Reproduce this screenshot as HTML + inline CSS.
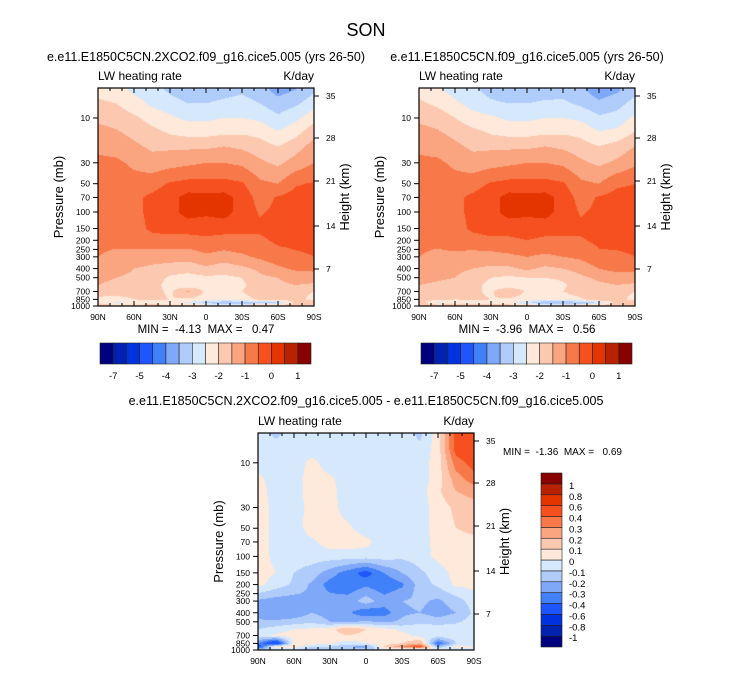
<!DOCTYPE html>
<html><head><meta charset="utf-8"><style>
body{margin:0;background:#fff;width:733px;height:673px;overflow:hidden;position:relative;font-family:"Liberation Sans",sans-serif}
canvas{position:absolute}
svg{position:absolute;left:0;top:0}
svg text{white-space:pre}
</style></head><body>
<canvas id="c1" width="216" height="218" style="left:98px;top:88px"></canvas>
<canvas id="c2" width="216" height="218" style="left:419px;top:88px"></canvas>
<canvas id="c3" width="216" height="217" style="left:258px;top:433px"></canvas>
<svg id="s" width="733" height="673"></svg>
<script>
const lats=[90,75,60,45,30,15,0,-15,-30,-45,-60,-75,-90];
const levels=[5,7,10,15,20,30,50,70,100,150,200,300,400,500,600,700,850,925,1000];
const palette=["#00007f","#0022b0","#0033e0","#1e55ff","#4080f8","#80a8f8","#b0ccfa","#d6e8fc","#fee9da","#fcc8b0","#faa480","#f77848","#f65020","#e43500","#b82200","#880000"];
const absLevels=[-7,-6,-5,-4.5,-4,-3.5,-3,-2.5,-2,-1.5,-1,-0.5,0,0.5,1];
const absLabels=["-7","-5","-4","-3","-2","-1","0","1"];
const diffLevels=[-1,-0.8,-0.6,-0.4,-0.3,-0.2,-0.1,0,0.1,0.2,0.3,0.4,0.6,0.8,1];
const diffLabels=["-1","-0.8","-0.6","-0.4","-0.3","-0.2","-0.1","0","0.1","0.2","0.3","0.4","0.6","0.8","1"];
const pTicks=[10,30,50,70,100,150,200,250,300,400,500,700,850,1000];
const hTicks=[35,28,21,14,7];
const latTickLabels=["90N","60N","30N","0","30S","60S","90S"];
const field2xco2=[
[-2.2,-2.3,-2.6,-2.8,-3.1,-3.3,-3.3,-3.2,-3.1,-3.3,-3.7,-3.5,-3.1],
[-1.9,-2.0,-2.3,-2.6,-2.8,-3.0,-3.0,-2.9,-2.8,-3.0,-3.3,-3.1,-2.7],
[-1.6,-1.7,-1.9,-2.2,-2.4,-2.6,-2.6,-2.5,-2.5,-2.6,-2.9,-2.6,-2.2],
[-1.3,-1.4,-1.6,-1.8,-2.0,-2.1,-2.1,-2.0,-2.0,-2.1,-2.4,-2.1,-1.6],
[-1.1,-1.2,-1.4,-1.6,-1.6,-1.6,-1.6,-1.5,-1.6,-1.8,-2.0,-1.7,-1.3],
[-0.9,-0.9,-1.1,-1.3,-1.2,-1.1,-1.0,-1.0,-1.1,-1.4,-1.6,-1.3,-1.0],
[-0.8,-0.8,-0.8,-0.7,-0.45,-0.35,-0.35,-0.35,-0.45,-0.9,-1.0,-0.55,-0.45],
[-0.7,-0.7,-0.6,-0.4,-0.2,0.2,0.15,0.2,-0.2,-0.7,-0.45,-0.3,-0.3],
[-0.7,-0.7,-0.6,-0.4,-0.2,0.2,0.1,0.2,-0.2,-0.55,-0.4,-0.3,-0.3],
[-0.8,-0.8,-0.7,-0.4,-0.3,-0.3,-0.3,-0.3,-0.4,-0.4,-0.3,-0.3,-0.3],
[-0.9,-0.9,-0.8,-0.7,-0.7,-0.7,-0.6,-0.7,-0.6,-0.6,-0.4,-0.35,-0.35],
[-1.0,-1.1,-1.2,-1.3,-1.3,-1.3,-1.1,-1.2,-1.1,-0.9,-0.7,-0.6,-0.5],
[-1.2,-1.3,-1.5,-1.6,-1.7,-1.8,-1.6,-1.8,-1.6,-1.4,-1.1,-0.9,-0.9],
[-1.4,-1.5,-1.6,-1.7,-2.1,-2.2,-2.1,-2.1,-2.0,-1.6,-1.5,-1.3,-1.2],
[-1.5,-1.6,-1.7,-1.8,-2.2,-2.4,-2.2,-2.3,-2.1,-1.7,-1.6,-1.5,-1.6],
[-1.6,-1.6,-1.7,-1.8,-2.1,-1.4,-2.1,-2.2,-2.0,-1.7,-1.7,-1.8,-2.0],
[-2.2,-2.3,-2.0,-1.9,-2.0,-2.1,-2.2,-2.3,-2.2,-1.9,-1.8,-1.8,-2.2],
[-2.0,-2.6,-2.4,-2.4,-2.4,-2.6,-3.2,-3.5,-3.4,-3.3,-3.1,-1.8,-1.5],
[-1.8,-1.6,-1.7,-1.6,-1.7,-1.8,-1.9,-1.9,-1.8,-1.7,-1.5,-1.6,-1.8]];
const fieldCtl=[
[-2.2,-2.4,-2.7,-2.9,-3.2,-3.4,-3.4,-3.3,-3.2,-3.4,-3.8,-3.6,-3.2],
[-1.9,-2.1,-2.4,-2.7,-2.9,-3.0,-3.0,-2.9,-2.9,-3.1,-3.4,-3.2,-2.8],
[-1.6,-1.7,-2.0,-2.3,-2.4,-2.6,-2.6,-2.5,-2.5,-2.6,-2.9,-2.8,-2.4],
[-1.3,-1.4,-1.6,-1.8,-2.0,-2.1,-2.1,-2.0,-2.0,-2.1,-2.4,-2.3,-1.9],
[-1.1,-1.2,-1.4,-1.6,-1.6,-1.6,-1.6,-1.5,-1.6,-1.8,-2.0,-1.8,-1.5],
[-0.9,-0.9,-1.1,-1.3,-1.2,-1.1,-1.0,-1.0,-1.1,-1.4,-1.6,-1.4,-1.1],
[-0.8,-0.8,-0.8,-0.7,-0.45,-0.35,-0.35,-0.35,-0.45,-0.9,-1.0,-0.6,-0.5],
[-0.7,-0.7,-0.6,-0.4,-0.2,0.2,0.15,0.2,-0.2,-0.7,-0.45,-0.3,-0.3],
[-0.7,-0.7,-0.6,-0.4,-0.2,0.2,0.1,0.2,-0.2,-0.55,-0.4,-0.3,-0.3],
[-0.8,-0.8,-0.7,-0.4,-0.3,-0.3,-0.25,-0.3,-0.4,-0.4,-0.3,-0.3,-0.3],
[-0.9,-0.9,-0.8,-0.7,-0.6,-0.6,-0.5,-0.6,-0.55,-0.55,-0.4,-0.35,-0.35],
[-1.0,-1.1,-1.1,-1.2,-1.2,-1.1,-1.0,-1.1,-1.0,-0.9,-0.6,-0.6,-0.5],
[-1.1,-1.2,-1.4,-1.5,-1.6,-1.6,-1.4,-1.6,-1.5,-1.3,-1.0,-0.8,-0.9],
[-1.3,-1.4,-1.5,-1.7,-2.0,-2.1,-2.0,-2.0,-1.9,-1.6,-1.4,-1.3,-1.2],
[-1.5,-1.6,-1.7,-1.8,-2.2,-2.4,-2.2,-2.3,-2.1,-1.7,-1.6,-1.5,-1.6],
[-1.6,-1.6,-1.7,-1.9,-2.1,-1.5,-2.1,-2.2,-2.0,-1.7,-1.7,-1.8,-2.0],
[-2.0,-1.8,-2.0,-1.9,-2.0,-2.1,-2.2,-2.3,-2.3,-2.1,-1.5,-1.8,-2.2],
[-1.6,-2.6,-2.4,-2.3,-2.3,-2.4,-2.9,-3.6,-3.5,-3.5,-3.0,-1.8,-1.5],
[-1.7,-1.5,-1.6,-1.5,-1.5,-1.6,-1.8,-1.8,-1.7,-1.6,-1.5,-1.6,-1.8]];
const fieldDiff=[
[-0.05,-0.12,-0.05,-0.05,-0.05,-0.05,-0.05,-0.05,-0.05,-0.12,0.05,0.45,0.5],
[-0.05,-0.05,-0.05,-0.05,-0.05,-0.05,-0.05,-0.05,-0.05,-0.08,0.05,0.45,0.5],
[-0.05,-0.05,-0.05,0.03,-0.05,-0.05,-0.05,-0.05,-0.05,-0.05,0.05,0.35,0.45],
[0.03,-0.05,-0.05,0.05,0.02,-0.05,-0.05,-0.05,-0.05,-0.05,0.05,0.25,0.35],
[0.05,-0.05,-0.05,0.05,0.03,-0.05,-0.05,-0.05,-0.05,-0.05,0.08,0.2,0.25],
[0.05,-0.03,-0.05,0.04,0.04,-0.05,-0.05,-0.05,-0.05,-0.05,0.05,0.12,0.15],
[0.05,-0.03,-0.05,0.05,0.05,0.02,-0.05,-0.05,-0.05,-0.05,0.05,0.1,0.12],
[0.05,-0.03,-0.05,-0.02,0.05,0.05,0.03,-0.05,-0.05,-0.05,0.04,0.07,0.08],
[0.05,-0.03,-0.05,-0.05,-0.05,-0.05,-0.05,-0.05,-0.08,-0.05,0.03,0.05,0.06],
[0.05,0.0,-0.1,-0.15,-0.25,-0.35,-0.45,-0.3,-0.2,-0.12,-0.05,0.04,0.05],
[0.03,-0.05,-0.12,-0.22,-0.35,-0.38,-0.32,-0.38,-0.32,-0.15,-0.08,0.02,0.03],
[-0.22,-0.25,-0.25,-0.22,-0.25,-0.25,-0.15,-0.25,-0.2,-0.18,-0.22,-0.15,-0.05],
[-0.25,-0.28,-0.28,-0.2,-0.25,-0.28,-0.38,-0.35,-0.22,-0.2,-0.25,-0.2,-0.08],
[-0.18,-0.18,-0.15,-0.12,-0.2,-0.22,-0.18,-0.22,-0.18,-0.12,-0.15,-0.12,-0.05],
[-0.1,-0.05,0.0,0.02,0.05,0.2,0.1,0.03,-0.02,-0.03,-0.03,-0.03,-0.03],
[-0.05,0.02,0.05,0.1,0.05,0.1,0.05,0.08,0.03,-0.03,-0.03,-0.03,-0.03],
[-0.3,-0.6,0.05,0.05,0.02,-0.05,0.0,0.05,0.1,0.2,-0.4,-0.1,-0.05],
[-0.5,0.1,0.05,-0.1,-0.1,-0.2,-0.25,0.1,0.3,0.5,-0.2,0.05,0.0],
[-0.15,-0.1,-0.1,-0.2,-0.2,-0.15,-0.1,-0.1,-0.15,-0.3,0.1,-0.05,0.0]];

const PTOP=4.8,PBOT=1000;
function yOfP(p,y0,h){return y0+h*(Math.log10(p/PTOP))/Math.log10(PBOT/PTOP);}
function xOfLat(l,x0,w){return x0+w*(90-l)/180;}
function binColor(v,lv){let i=0;while(i<lv.length&&v>=lv[i])i++;return palette[i];}
function sample(f,lat,p){
  let fi=(90-lat)/15;let i0=Math.min(Math.floor(fi),11);let ti=fi-i0;
  const lp=Math.log(p);let j0=0;
  while(j0<levels.length-2&&lp>Math.log(levels[j0+1]))j0++;
  let tj=(lp-Math.log(levels[j0]))/(Math.log(levels[j0+1])-Math.log(levels[j0]));
  tj=Math.max(0,Math.min(1,tj));
  const a=f[j0][i0],b=f[j0][i0+1],c=f[j0+1][i0],d=f[j0+1][i0+1];
  return (a*(1-ti)+b*ti)*(1-tj)+(c*(1-ti)+d*ti)*tj;
}
function drawField(id,f,lv){
  const cv=document.getElementById(id),ctx=cv.getContext('2d'),W=cv.width,H=cv.height;
  for(let y=0;y<H;y++){
    const p=PTOP*Math.pow(PBOT/PTOP,(y+0.5)/H);
    for(let x=0;x<W;x++){
      const lat=90-180*(x+0.5)/W;
      ctx.fillStyle=binColor(sample(f,lat,p),lv);ctx.fillRect(x,y,1,1);
    }
  }
}
drawField('c1',field2xco2,absLevels);
drawField('c2',fieldCtl,absLevels);
drawField('c3',fieldDiff,diffLevels);

const S=document.getElementById('s');const NS='http://www.w3.org/2000/svg';
function el(t,a,txt){const e=document.createElementNS(NS,t);for(const k in a)e.setAttribute(k,a[k]);if(txt!==undefined)e.textContent=txt;S.appendChild(e);return e;}
function txt(x,y,s,size,anchor,name,extra){const e=el('text',Object.assign({x:x,y:y,'font-size':size,'text-anchor':anchor||'start',fill:'#000','font-family':'Liberation Sans, sans-serif'},extra||{}),s);

return e;}

txt(366,36,'SON',18,'middle','figure-title');
function panel(x0,y0,w,h,title,pref,titleY){
  const r=el('rect',{x:x0,y:y0,width:w,height:h,fill:'none',stroke:'#000','stroke-width':1.2});
  
  
  txt(x0+w/2,titleY,title,12.5,'middle',pref+'-title');
  txt(x0,y0-8,'LW heating rate',12,'start',pref+'-variable-label');
  txt(x0+w,y0-8,'K/day',12,'end',pref+'-units-label');
  pTicks.forEach(p=>{const y=yOfP(p,y0,h);
    const l=el('line',{x1:x0-5,x2:x0,y1:y,y2:y,stroke:'#000'});
    
    
    txt(x0-8,y+3,String(p),8.5,'end',pref+'-pressure-tick-label');});
  const hOff=[8,50,93,138,181];
  hTicks.forEach((hv,i)=>{const y=y0+hOff[i];
    const l=el('line',{x1:x0+w,x2:x0+w+5,y1:y,y2:y,stroke:'#000'});
    
    
    txt(x0+w+12,y+3,String(hv),8.5,'start',pref+'-height-tick-label');});
  for(let lat=90;lat>=-90;lat-=10){const x=xOfLat(lat,x0,w);const major=lat%30===0;
    const L=major?5:3;
    const a=el('line',{x1:x,x2:x,y1:y0+h,y2:y0+h-L,stroke:'#000'});
    
    
    const b=el('line',{x1:x,x2:x,y1:y0,y2:y0+L,stroke:'#000'});
    
    }
  latTickLabels.forEach((s,i)=>{txt(xOfLat(90-30*i,x0,w),y0+h+14,s,8.5,'middle',pref+'-lat-tick-label');});
  const cy=y0+h/2;
  txt(x0-35,cy,'Pressure (mb)',13,'middle',pref+'-y-axis-title',{transform:`rotate(-90 ${x0-35} ${cy})`});
  txt(x0+w+35,cy,'Height (km)',13,'middle',pref+'-right-axis-title',{transform:`rotate(-90 ${x0+w+35} ${cy})`});
}
panel(98,88,216,218,'e.e11.E1850C5CN.2XCO2.f09_g16.cice5.005 (yrs 26-50)','left',61);
panel(419,88,216,218,'e.e11.E1850C5CN.f09_g16.cice5.005 (yrs 26-50)','right',61);
panel(258,433,216,217,'e.e11.E1850C5CN.2XCO2.f09_g16.cice5.005 - e.e11.E1850C5CN.f09_g16.cice5.005','diff',405);
txt(206,333,'MIN =  -4.13  MAX =   0.47',11.5,'middle','left-min-max');
txt(527,333,'MIN =  -3.96  MAX =   0.56',11.5,'middle','right-min-max');
txt(503,455,'MIN =  -1.36  MAX =   0.69',10,'start','diff-min-max');

function hbar(x0,pref){const y0=343,w=211,h=21,bw=w/16;
  palette.forEach((c,i)=>{const r=el('rect',{x:x0+i*bw,y:y0,width:bw,height:h,fill:c,stroke:'#222','stroke-width':0.6});
    
    });
  absLabels.forEach((s,i)=>txt(x0+(1+2*i)*bw,y0+h+15,s,9.5,'middle',pref+'-colorbar-label'));
}
hbar(100,'left');hbar(421,'right');
(function(){const x0=541,y0=473,w=21,h=174,bh=h/16;
  palette.forEach((c,i)=>{const r=el('rect',{x:x0,y:y0+(15-i)*bh,width:w,height:bh,fill:c,stroke:'#222','stroke-width':0.6});
    
    });
  diffLabels.forEach((s,i)=>txt(x0+w+7,y0+(15-i)*bh+5,s,9.5,'start','diff-colorbar-label'));
})();
</script>
</body></html>
